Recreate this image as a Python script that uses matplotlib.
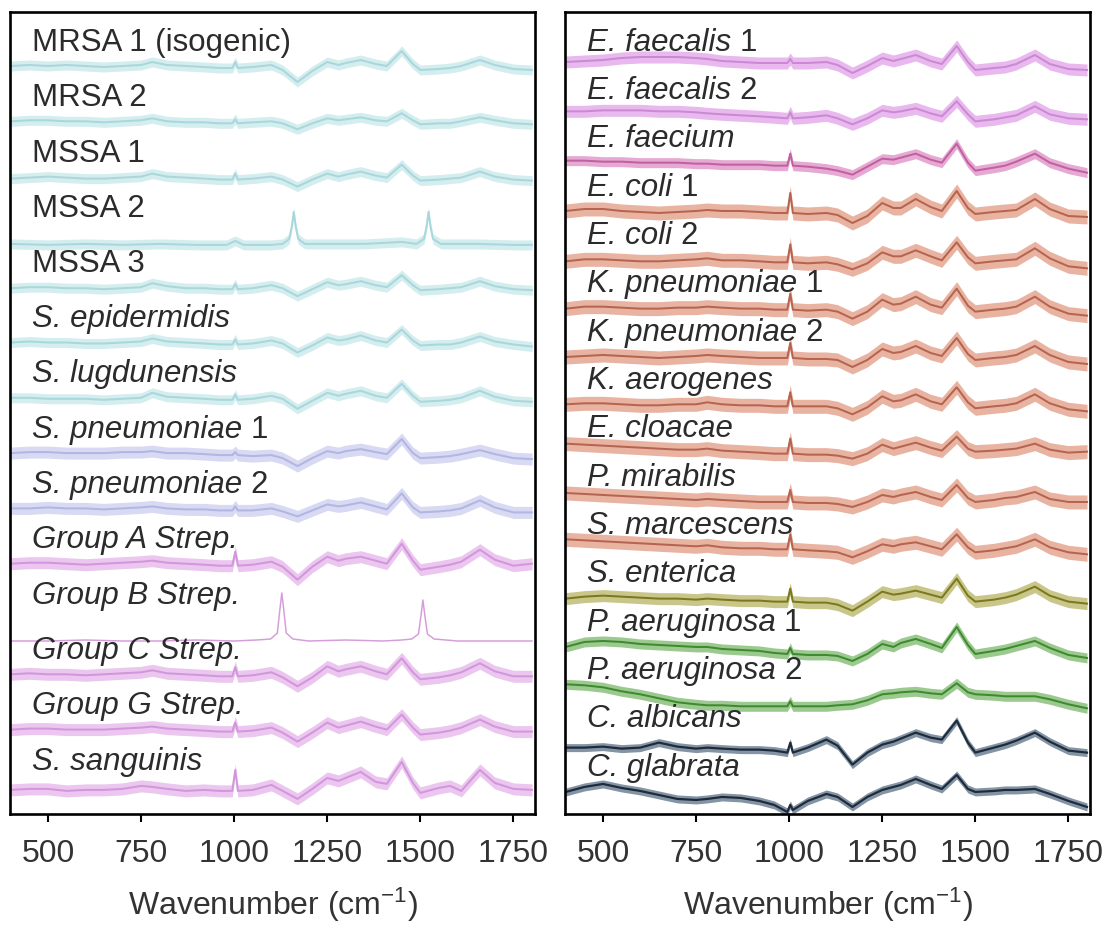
import numpy as np
import matplotlib
matplotlib.use("Agg")
import matplotlib.pyplot as plt

plt.rcParams['font.family'] = ['Liberation Sans', 'DejaVu Sans']
plt.rcParams['mathtext.fontset'] = 'custom'
plt.rcParams['mathtext.rm'] = 'Liberation Sans'
plt.rcParams['mathtext.it'] = 'Liberation Sans:italic'
plt.rcParams['mathtext.bf'] = 'Liberation Sans:bold'

# ---------------- data (intensity offsets, px-like units) -------------
WN = [400, 450, 500, 550, 600, 650, 700, 750, 780, 820, 870, 920, 960, 995, 1003, 1010,
      1050, 1100, 1130, 1170, 1210, 1250, 1280, 1300, 1340, 1380, 1410, 1450, 1480, 1500,
      1550, 1580, 1610, 1660, 1700, 1750, 1800]

WN_MSSA2 = [400, 500, 600, 700, 800, 900, 980, 1003, 1025, 1100, 1130, 1148, 1155, 1160,
            1165, 1172, 1190, 1250, 1350, 1450, 1490, 1510, 1517, 1522, 1527, 1534, 1555,
            1650, 1750, 1800]
WN_GBS = [400, 500, 600, 700, 800, 900, 1000, 1060, 1098, 1116, 1123, 1128, 1133, 1140,
          1158, 1200, 1300, 1400, 1450, 1477, 1495, 1502, 1507, 1512, 1519, 1537, 1600,
          1700, 1800]

MRSA_1 = [0, 1, 0, 1, 0, -1, 0, 1, 4, 1, 0, -1, -2, -2, 4, -2, -1, 1, -4, -16, -5, 4, 1, 3, 6, 2, 0, 15, 2, -4, -3, -2, 0, 6, 1, -3, -4]
MRSA_2 = [0, 1, 1, 0, 0, -1, 0, 1, 3, 0, -1, -1, -2, -2, 2, -2, -1, 0, -2, -8, -2, 3, 1, 2, 4, 1, 0, 8, 1, -3, -2, -2, 0, 4, 1, -2, -3]
MSSA_1 = [-2, -1, 0, -1, -2, -2, -1, 0, 3, 0, -1, -2, -3, -3, 3, -3, -2, 0, -3, -10, -3, 3, 0, 2, 5, 1, -1, 12, 1, -4, -3, -2, -1, 5, 0, -3, -4]
MSSA_2 = [-12, -13, -12, -13, -12, -13, -13, -9, -13, -13, -12, -7, 6, 20, 6, -7, -12, -12, -12, -10, -12, -7, 6, 20, 6, -7, -12, -12, -13, -13]
MSSA_3 = [-1, 0, 0, -1, -1, -2, -1, 0, 4, 1, -1, -1, -2, -2, 3, -2, -1, 2, -1, -9, -2, 5, 2, 3, 6, 2, 0, 12, 2, -3, -2, -1, 0, 6, 1, -2, -3]
S_EPIDERMIDIS = [0, 1, 0, 0, -1, -1, 0, 1, 4, 1, 0, -1, -2, -2, 3, -2, -1, 2, -1, -10, -3, 5, 2, 3, 7, 2, 0, 13, 2, -3, -2, -2, 0, 6, 1, -2, -4]
S_LUGDUNENSIS = [0, 0, -1, -1, -1, -2, -1, 0, 5, 1, 0, -1, -2, -2, 3, -2, -1, 2, -1, -11, -3, 5, 2, 4, 7, 2, 0, 14, 2, -4, -3, -2, 0, 7, 1, -3, -4]
S_PNEUMONIAE_1 = [0, 1, 1, 0, 0, 0, 1, 1, 2, 0, 0, -1, -2, -2, 1, -2, -3, -2, -5, -13, -5, 2, 0, 2, 4, 1, -1, 14, 0, -5, -4, -3, -1, 3, -1, -5, -6]
S_PNEUMONIAE_2 = [0, 0, 1, 0, 0, -1, 0, 1, 2, 0, -1, -1, -2, -2, 2, -2, -2, 0, -3, -8, -2, 4, 2, 3, 6, 2, -1, 15, 1, -4, -3, -2, 0, 8, 1, -4, -4]
GROUP_A = [0, 1, 1, 0, -1, 0, 1, 2, 3, 1, 0, -1, -2, -2, 12, -2, -1, 2, -3, -16, -3, 7, 3, 5, 7, 3, 0, 20, 3, -6, -3, -1, 2, 14, 4, -2, 0]
GROUP_B = [-22, -22, -21, -22, -22, -21, -22, -21, -20, -14, 10, 26, 10, -14, -20, -22, -21, -22, -21, -20, -15, 4, 19, 4, -15, -20, -22, -22, -22]
GROUP_C = [0, 1, 0, 0, -1, 0, 1, 2, 4, 1, 0, -1, -2, -2, 7, -2, -1, 2, -3, -12, -3, 8, 3, 5, 8, 3, 0, 16, 2, -5, -3, -1, 2, 11, 3, -2, -2]
GROUP_G = [0, 1, 1, 0, 0, 0, 1, 2, 3, 1, 0, -1, -2, -2, 7, -2, -1, 2, -3, -12, -3, 7, 2, 4, 8, 3, 0, 15, 2, -5, -3, -1, 2, 10, 3, -2, -2]
S_SANGUINIS = [-5, -4, -4, -6, -5, -5, -4, -1, -2, -4, -6, -5, -6, -6, 15, -6, -5, 0, -6, -14, -4, 7, 4, 7, 13, 3, 1, 23, 2, -8, -3, -1, -6, 15, 2, -4, -5]

E_FAECALIS_1 = [4, 5, 6, 8, 9, 9, 9, 8, 7, 5, 4, 3, 3, 3, 7, 3, 3, 4, 1, -7, 0, 8, 5, 7, 11, 5, 2, 20, 4, -4, -2, -1, 2, 11, 2, -3, -4]
E_FAECALIS_2 = [3, 3, 4, 4, 4, 3, 3, 2, 1, 0, -1, -2, -3, -4, 2, -4, -3, -1, -4, -10, -4, 4, 2, 3, 6, 1, -2, 13, 0, -7, -5, -3, -1, 8, 0, -4, -5]
E_FAECIUM = [2, 2, 1, 1, 0, 0, 0, -1, -1, -2, -2, -2, -3, -3, 9, -3, -4, -6, -8, -12, -4, 4, 3, 5, 9, 3, 0, 19, 0, -8, -5, -3, 1, 9, 0, -6, -10]
E_COLI_1 = [0, 2, 2, 0, -1, -2, -1, 0, 1, 0, 0, -1, -2, -2, 18, -2, -3, -2, -4, -12, -5, 8, 3, 3, 12, 4, 0, 20, 3, -3, -1, 0, 1, 12, 2, -5, -6]
E_COLI_2 = [-2, 0, 0, -1, -2, -2, -1, 0, 1, -1, -1, -2, -3, -3, 15, -3, -4, -3, -5, -10, -4, 7, 3, 3, 9, 3, -1, 17, 2, -4, -2, -1, 0, 11, 1, -7, -9]
K_PNEUMONIAE_1 = [-1, 1, 1, 0, -1, -1, 0, 0, 1, 0, -1, -1, -2, -2, 14, -2, -3, -2, -4, -11, -4, 8, 3, 4, 11, 3, 0, 19, 2, -4, -2, -1, 1, 11, 1, -6, -8]
K_PNEUMONIAE_2 = [-1, 0, 1, 0, -1, -2, -1, 0, 1, 0, -1, -2, -2, -2, 13, -2, -3, -3, -4, -11, -4, 7, 3, 4, 10, 3, 0, 18, 2, -4, -2, -1, 1, 10, 1, -6, -8]
K_AEROGENES = [0, 1, 1, 0, -1, -1, 0, 0, 2, 0, -1, -1, -2, -2, 12, -2, -2, -2, -4, -10, -3, 8, 3, 4, 10, 3, 0, 17, 2, -4, -2, -1, 1, 10, 1, -5, -7]
E_CLOACAE = [9, 8, 7, 6, 5, 4, 3, 3, 4, 2, 1, 0, -1, -1, 14, -1, -2, -2, -3, -6, -1, 8, 4, 6, 10, 5, 2, 16, 4, 1, 2, 3, 4, 9, 3, 0, 1]
P_MIRABILIS = [8, 7, 6, 5, 4, 3, 2, 1, 2, 1, 0, -1, -1, -1, 11, -1, -2, -2, -3, -6, -1, 6, 4, 6, 9, 4, 1, 16, 3, -1, 1, 3, 4, 9, 2, -1, -1]
S_MARCESCENS = [10, 9, 8, 7, 6, 5, 4, 3, 4, 2, 1, 1, 0, 0, 15, 0, -1, -2, -3, -8, -2, 5, 3, 5, 7, 3, 0, 15, 2, -3, -1, 1, 3, 10, 2, -3, -5]
S_ENTERICA = [-1, 1, 2, 1, 0, -1, -1, -2, -1, -2, -3, -3, -4, -4, 9, -4, -5, -5, -7, -13, -4, 6, 3, 4, 7, 3, 0, 19, 2, -4, -2, 0, 3, 11, 2, -4, -6]
P_AERUGINOSA_1 = [-1, 4, 5, 4, 2, 1, 0, -1, -1, -3, -4, -5, -7, -8, -2, -8, -9, -9, -10, -15, -8, 2, -1, 3, 7, 2, -2, 19, 1, -8, -5, -3, 0, 5, -2, -9, -12]
P_AERUGINOSA_2 = [10, 9, 7, 3, 0, -4, -8, -10, -11, -11, -12, -12, -12, -12, -7, -12, -12, -12, -11, -10, -6, 0, 1, 2, 3, 1, 0, 11, 2, 0, -1, -2, -2, -2, -5, -10, -14]
C_ALBICANS = [-5, -5, -4, -6, -5, 0, -4, -6, -5, -6, -7, -7, -8, -10, 0, -10, -5, 3, -3, -22, -10, -2, 1, 4, 10, 5, 3, 22, 0, -10, -5, -2, 2, 10, 1, -8, -10]
C_GLABRATA = [-1, 4, 7, 3, 0, -4, -8, -9, -8, -6, -7, -10, -14, -21, -14, -19, -10, -3, -6, -16, -6, 1, 4, 6, 12, 6, 2, 16, 2, -1, 0, 1, 1, 2, -3, -10, -16]

LEFT_NAMES = ['MRSA 1 (isogenic)', 'MRSA 2', 'MSSA 1', 'MSSA 2', 'MSSA 3', 'S. epidermidis',
              'S. lugdunensis', 'S. pneumoniae 1', 'S. pneumoniae 2', 'Group A Strep.',
              'Group B Strep.', 'Group C Strep.', 'Group G Strep.', 'S. sanguinis']
LEFT_SERIES = [(WN, MRSA_1), (WN, MRSA_2), (WN, MSSA_1), (WN_MSSA2, MSSA_2), (WN, MSSA_3),
               (WN, S_EPIDERMIDIS), (WN, S_LUGDUNENSIS), (WN, S_PNEUMONIAE_1),
               (WN, S_PNEUMONIAE_2), (WN, GROUP_A), (WN_GBS, GROUP_B), (WN, GROUP_C),
               (WN, GROUP_G), (WN, S_SANGUINIS)]
LEFT_GROUPS = ['staph'] * 7 + ['pneumo'] * 2 + ['strep', 'gbs', 'strep', 'strep', 'strep']

RIGHT_NAMES = ['E. faecalis 1', 'E. faecalis 2', 'E. faecium', 'E. coli 1', 'E. coli 2',
               'K. pneumoniae 1', 'K. pneumoniae 2', 'K. aerogenes', 'E. cloacae',
               'P. mirabilis', 'S. marcescens', 'S. enterica', 'P. aeruginosa 1',
               'P. aeruginosa 2', 'C. albicans', 'C. glabrata']
RIGHT_SERIES = [(WN, v) for v in [E_FAECALIS_1, E_FAECALIS_2, E_FAECIUM, E_COLI_1, E_COLI_2,
                                  K_PNEUMONIAE_1, K_PNEUMONIAE_2, K_AEROGENES, E_CLOACAE,
                                  P_MIRABILIS, S_MARCESCENS, S_ENTERICA, P_AERUGINOSA_1,
                                  P_AERUGINOSA_2, C_ALBICANS, C_GLABRATA]]
RIGHT_GROUPS = ['faecalis', 'faecalis', 'faecium'] + ['gramneg'] * 8 + \
               ['enterica', 'paeru', 'paeru', 'candida', 'candida']

TICKS = [500, 750, 1000, 1250, 1500, 1750]

# ---------------- styles ----------------
STYLE = {  # line colour, band colour, band half width, line width
    'staph':    ('#a9d7db', '#d4edef', 5, 2.0),
    'pneumo':   ('#b3b5e2', '#d8d9f2', 6, 2.0),
    'strep':    ('#d296dc', '#ebc6ef', 6, 2.0),
    'gbs':      ('#d69ddb', None, 0, 1.5),
    'faecalis': ('#c98ad2', '#e8b8ee', 6, 2.0),
    'faecium':  ('#c0609f', '#e6a9d3', 5, 2.0),
    'gramneg':  ('#b5644f', '#e9b3a2', 7, 2.0),
    'enterica': ('#7b781f', '#c9c68a', 6, 2.0),
    'paeru':    ('#3d8a2f', '#9cc98f', 5, 2.0),
    'candida':  ('#1d2b3b', '#8494a5', 4, 2.2),
}

TEXT_COLOR = '#2b2b2b'
LABEL_SIZE = 22.5


def add_label(ax, x, y, name):
    if name.startswith('MRSA') or name.startswith('MSSA'):
        ax.text(x, y, name, transform=ax.get_yaxis_transform(), fontsize=LABEL_SIZE,
                color=TEXT_COLOR, va='baseline', ha='left', zorder=3)
        return
    parts = name.rsplit(' ', 1)
    if parts[-1].isdigit():
        t = ax.text(x, y, parts[0], transform=ax.get_yaxis_transform(), fontsize=LABEL_SIZE,
                    style='italic', color=TEXT_COLOR, va='bottom', ha='left', zorder=3)
        ax.annotate(parts[1], xy=(1, 0), xycoords=t, xytext=(6, 0),
                    textcoords='offset points', fontsize=LABEL_SIZE, color=TEXT_COLOR,
                    va='bottom', ha='left', zorder=3)
    else:
        ax.text(x, y, name, transform=ax.get_yaxis_transform(), fontsize=LABEL_SIZE,
                style='italic', color=TEXT_COLOR, va='bottom', ha='left', zorder=3)


def draw_panel(ax, names, series, groups, step):
    for i, ((wn, vals), grp) in enumerate(zip(series, groups)):
        base = 748 - step * i
        y = base + np.asarray(vals, dtype=float)
        lc, bc, hw, lw = STYLE[grp]
        if hw > 0:
            ax.fill_between(wn, y - hw, y + hw, color=bc, lw=0, zorder=1)
        ax.plot(wn, y, color=lc, lw=lw * 0.72, zorder=2, solid_joinstyle='round')
    # descent of the label font (~0.21 em) to convert bottom alignment to baseline
    desc_px = 0.212 * LABEL_SIZE * 100 / 72
    for i, name in enumerate(names):
        base = 748 - step * i
        if name.startswith('MRSA') or name.startswith('MSSA'):
            add_label(ax, 22 / 525, base + 16, name)
        else:
            add_label(ax, 22 / 525, base + 16 - desc_px, name)
    ax.set_xlim(398, 1808)
    ax.set_ylim(0, 802)
    ax.set_yticks([])
    ax.set_xticks(TICKS)
    ax.set_xticklabels([str(t) for t in TICKS])
    ax.tick_params(axis='x', direction='out', length=6, width=1.5, labelsize=23,
                   pad=11, labelcolor='#333333')
    for sp in ax.spines.values():
        sp.set_linewidth(1.9)
        sp.set_color('black')
    ax.set_xlabel('Wavenumber (cm$^{-1}$)', fontsize=23, color='#333333', labelpad=12)


fig = plt.figure(figsize=(11.08, 9.29), dpi=100)
axL = fig.add_axes([10 / 1108, 114 / 929, 525 / 1108, 802 / 929])
axR = fig.add_axes([565 / 1108, 114 / 929, 525 / 1108, 802 / 929])

draw_panel(axL, LEFT_NAMES, LEFT_SERIES, LEFT_GROUPS, 55.3)
draw_panel(axR, RIGHT_NAMES, RIGHT_SERIES, RIGHT_GROUPS, 48.33)

fig.savefig('out.png', dpi=100)
